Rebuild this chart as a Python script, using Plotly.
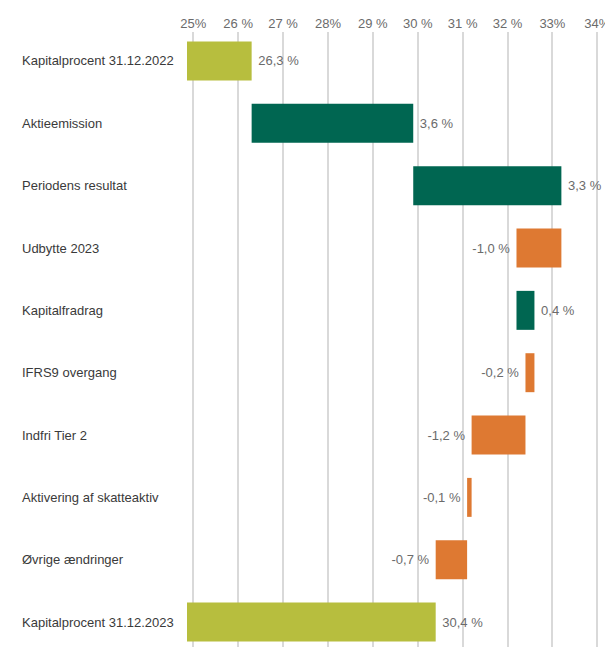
import plotly.graph_objects as go

categories = [
    "Kapitalprocent 31.12.2022",
    "Aktieemission",
    "Periodens resultat",
    "Udbytte 2023",
    "Kapitalfradrag",
    "IFRS9 overgang",
    "Indfri Tier 2",
    "Aktivering af skatteaktiv",
    "Øvrige ændringer",
    "Kapitalprocent 31.12.2023",
]
values = [26.3, 3.6, 3.3, -1.0, 0.4, -0.2, -1.2, -0.1, -0.7, 30.4]
measures = ["absolute", "relative", "relative", "relative", "relative",
            "relative", "relative", "relative", "relative", "total"]
tick_values = [25, 26, 27, 28, 29, 30, 31, 32, 33, 34]
tick_labels = ["25%", "26 %", "27 %", "28%", "29 %", "30 %", "31 %", "32 %", "33%", "34%"]

NB = "\u00a0"
labels = []
for v in values:
    s = f"{v:.1f}".replace(".", ",") + NB + "%"
    labels.append(s + NB if v < 0 else NB + s)

OLIVE = "#B7BE3E"
DGREEN = "#006651"
ORANGE = "#DE7932"
FONT = "Liberation Sans, Arial, sans-serif"

fig = go.Figure(go.Waterfall(
    orientation="h",
    y=categories,
    x=values,
    measure=measures,
    text=labels,
    textposition="outside",
    constraintext="none",
    cliponaxis=False,
    textfont=dict(family=FONT, size=13, color="#6b6b6b"),
    increasing=dict(marker=dict(color=DGREEN)),
    decreasing=dict(marker=dict(color=ORANGE)),
    totals=dict(marker=dict(color=OLIVE)),
    connector=dict(visible=False),
    width=0.625,
    hoverinfo="skip",
))

for c in categories:
    fig.add_annotation(
        xref="paper", yref="y", x=0, y=c, xshift=-167,
        xanchor="left", yanchor="middle", showarrow=False,
        text=c, font=dict(family=FONT, size=13, color="#3a3a3a"),
    )

fig.update_layout(
    width=605, height=639,
    margin=dict(l=179, r=0, t=24, b=0),
    plot_bgcolor="white", paper_bgcolor="white",
    showlegend=False,
    font=dict(family=FONT),
    xaxis=dict(
        side="top", range=[24.86, 34.35],
        tickvals=tick_values, ticktext=tick_labels,
        showgrid=True, gridcolor="#d9d9d9", gridwidth=1.5,
        zeroline=False, showline=False, ticks="",
        tickfont=dict(family=FONT, size=13, color="#6b6b6b"),
        fixedrange=True,
    ),
    yaxis=dict(
        range=[9.40, -0.465], showticklabels=False, showgrid=False,
        zeroline=False, showline=False, ticks="", fixedrange=True,
    ),
)

fig.write_html("out.html")
